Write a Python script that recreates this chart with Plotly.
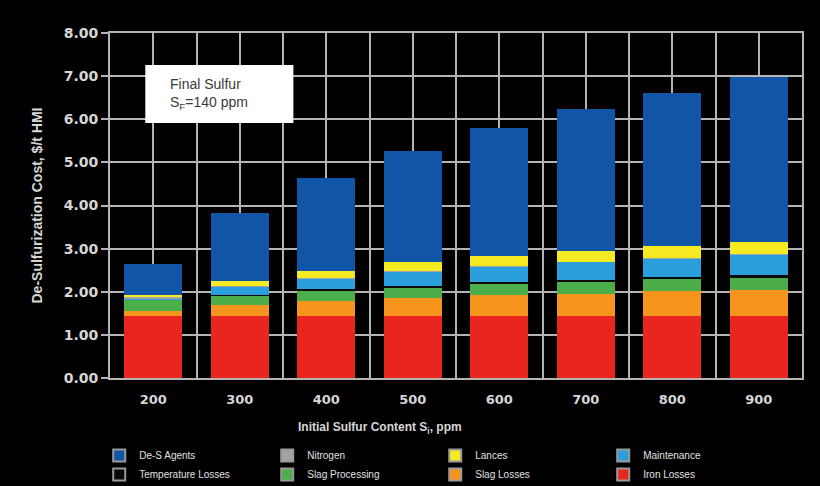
import plotly.graph_objects as go

# Initial sulfur content categories (ppm)
categories = ["200", "300", "400", "500", "600", "700", "800", "900"]

# Cost components, $/t HMI, listed bottom of stack first
iron_losses = [1.43, 1.43, 1.43, 1.43, 1.43, 1.43, 1.43, 1.43]
slag_losses = [0.12, 0.26, 0.36, 0.43, 0.50, 0.52, 0.59, 0.60]
slag_processing = [0.27, 0.23, 0.25, 0.23, 0.25, 0.27, 0.28, 0.30]
temperature_losses = [0.00, 0.01, 0.02, 0.05, 0.05, 0.05, 0.05, 0.06]
maintenance = [0.03, 0.20, 0.24, 0.32, 0.36, 0.42, 0.43, 0.48]
nitrogen = [0.02, 0.01, 0.01, 0.01, 0.01, 0.01, 0.01, 0.01]
lances = [0.06, 0.12, 0.18, 0.21, 0.23, 0.25, 0.27, 0.28]
des_agents = [0.72, 1.57, 2.15, 2.59, 2.97, 3.29, 3.55, 3.82]

y_ticks = [0, 1, 2, 3, 4, 5, 6, 7, 8]

# (name, values, colour, legend rank) — stack order bottom to top
series = [
    ("Iron Losses", iron_losses, "#e8251f", 8),
    ("Slag Losses", slag_losses, "#f7941d", 7),
    ("Slag Processing", slag_processing, "#4cae4a", 6),
    ("Temperature Losses", temperature_losses, "#0a0a0a", 5),
    ("Maintenance", maintenance, "#2a9fdc", 4),
    ("Nitrogen", nitrogen, "#a3a3a3", 2),
    ("Lances", lances, "#f6ea22", 3),
    ("De-S Agents", des_agents, "#1155a6", 1),
]

xpos = list(range(len(categories)))
fig = go.Figure()

for name, vals, color, rank in series:
    fig.add_trace(go.Bar(
        x=xpos, y=vals, name=name, marker=dict(color=color, line=dict(width=0)),
        width=0.67, showlegend=False,
    ))

# Legend swatches with a grey outline so the dark entry stays visible
for name, vals, color, rank in series:
    fig.add_trace(go.Scatter(
        x=[None], y=[None], mode="markers", name=name, legendrank=rank,
        marker=dict(symbol="square", size=8, color=color,
                    line=dict(color="#9a9a9a", width=1)),
    ))

grid_color = "#b4b4b4"
label_color = "#d6d6d6"
tick_font = dict(family="DejaVu Sans, Liberation Sans, sans-serif", size=14,
                 color=label_color, weight="bold")

fig.update_layout(
    barmode="stack",
    width=820, height=486,
    paper_bgcolor="#000000", plot_bgcolor="#000000",
    margin=dict(l=110, r=18, t=33, b=108),
    bargap=0.33,
    font=dict(family="Liberation Sans, Arial, sans-serif", color=label_color),
    xaxis=dict(
        range=[-0.5, len(categories) - 0.5],
        tickmode="array", tickvals=xpos, ticktext=categories,
        tickfont=dict(tick_font, size=13), ticks="", ticklabelstandoff=8,
        showgrid=True, gridcolor=grid_color, gridwidth=2,
        minor=dict(tickmode="array",
                   tickvals=[p - 0.5 for p in xpos] + [xpos[-1] + 0.5],
                   showgrid=True, gridcolor=grid_color, gridwidth=2, ticks=""),
        showline=True, linecolor=grid_color, linewidth=2, mirror=True,
        zeroline=False,
    ),
    yaxis=dict(
        range=[0, 8], tickmode="array", tickvals=y_ticks,
        tickformat=".2f", tickfont=tick_font,
        ticks="outside", ticklen=7, tickcolor=grid_color, tickwidth=2,
        showgrid=True, gridcolor=grid_color, gridwidth=2,
        showline=True, linecolor=grid_color, linewidth=2, mirror=True,
        zeroline=False,
        title=dict(text="De-Sulfurization Cost, $/t HMI",
                   font=dict(size=14, color=label_color, weight="bold"),
                   standoff=18),
    ),
    legend=dict(
        orientation="h", xref="container", yref="container",
        x=0.121, y=0.0926, xanchor="left", yanchor="top",
        entrywidth=123, entrywidthmode="pixels", itemwidth=30,
        font=dict(size=10, color="#e0e0e0"),
        bgcolor="rgba(0,0,0,0)", itemsizing="constant",
        tracegroupgap=0, traceorder="normal",
    ),
)

# Axis title for x placed under the tick labels
fig.add_annotation(
    text="Initial Sulfur Content S<sub>i</sub>, ppm",
    xref="paper", yref="paper", x=0.39, y=-0.115, xanchor="center", yanchor="top",
    showarrow=False, font=dict(size=12, color=label_color, weight="bold"),
)

# Boxed note: white panel with left-aligned text inset from its edge
fig.add_shape(
    type="rect", xref="paper", yref="paper",
    x0=0.051, x1=0.265, y0=0.739, y1=0.907,
    fillcolor="#ffffff", line=dict(width=0), layer="above",
)
fig.add_annotation(
    text="Final Sulfur<br>S<sub>F</sub>=140 ppm",
    xref="paper", yref="paper", x=0.084, y=0.823, xanchor="left", yanchor="middle",
    showarrow=False, align="left",
    font=dict(family="Liberation Sans, Arial, sans-serif", size=14, color="#3a3a3a"),
)

fig.write_html("out.html")
